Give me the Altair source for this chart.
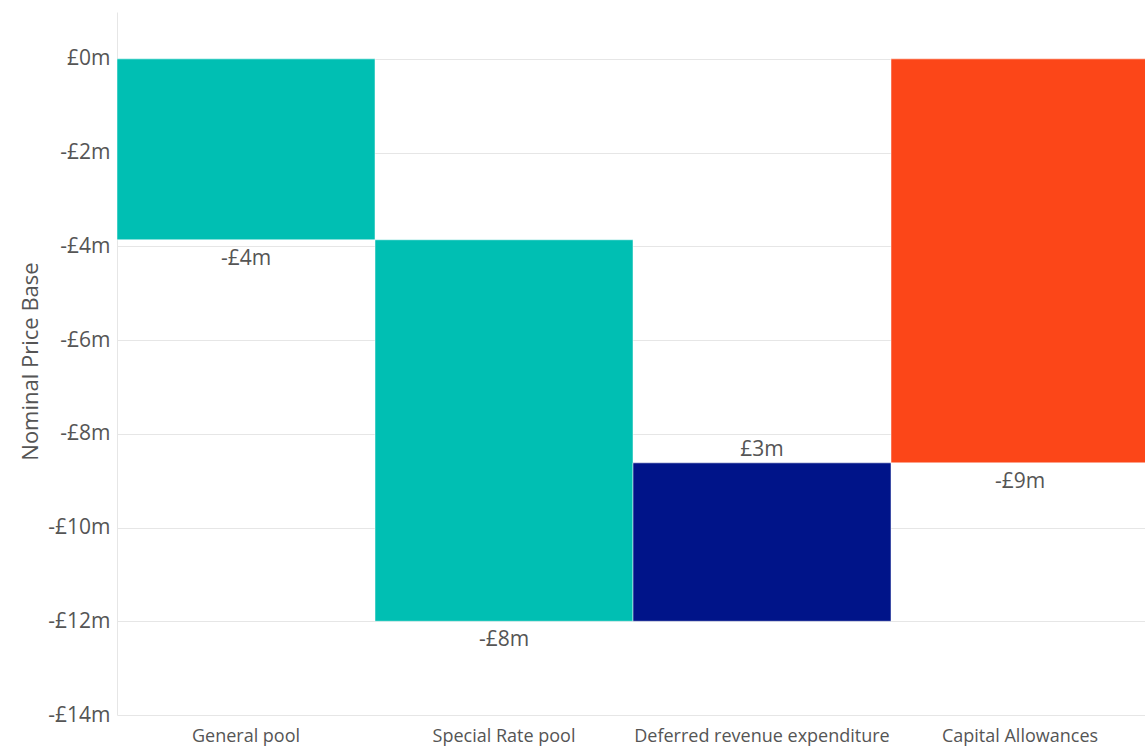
import altair as alt
import pandas as pd

categories = ["General pool", "Special Rate pool", "Deferred revenue expenditure", "Capital Allowances"]
changes = [-3.86, -8.14, 3.38, -8.62]
kinds = ["step", "step", "step", "total"]
labels = ["-£4m", "-£8m", "£3m", "-£9m"]
colors = ["#00BFB3", "#00BFB3", "#001489", "#FC4618"]

rows = []
running = 0.0
for cat, ch, kind, lab, col in zip(categories, changes, kinds, labels, colors):
    if kind == "total":
        start, end = 0.0, ch
    else:
        start, end = running, running + ch
        running = end
    rows.append({"cat": cat, "start": start, "end": end, "lo": min(start, end),
                 "hi": max(start, end), "label": lab, "color": col,
                 "sign": "neg" if ch < 0 else "pos"})
df = pd.DataFrame(rows)

font = "Open Sans"
xscale = alt.Scale(paddingInner=0, paddingOuter=0, range=[0, 1032])
x = alt.X("cat:N", sort=categories, title=None, scale=xscale,
          axis=alt.Axis(labelAngle=0, labelFontSize=18, labelColor="#555555",
                        labelFont=font, ticks=False, domain=False, labelPadding=12,
                        labelLimit=300))
yscale = alt.Scale(domain=[-14, 1], nice=False)

base = alt.Chart(df)

bars = base.mark_bar(stroke="white", strokeWidth=0.5).encode(
    x=x,
    y=alt.Y("start:Q", scale=yscale, title="Nominal Price Base",
            axis=alt.Axis(values=[0, -2, -4, -6, -8, -10, -12, -14],
                          labelExpr="datum.value < 0 ? '-£' + abs(datum.value) + 'm' : '£' + datum.value + 'm'",
                          labelFontSize=21, labelColor="#555555", labelFont=font,
                          ticks=False, domainColor="#e6e6e6", labelPadding=7,
                          gridColor="#e6e6e6", titleFontSize=22, titleFont=font,
                          titleColor="#555555", titleFontWeight="normal",
                          titleX=-87, titleY=349, titleAngle=270,
                          titleAlign="center", titleBaseline="middle")),
    y2="end:Q",
    color=alt.Color("color:N", scale=None),
)

neg_text = base.transform_filter("datum.sign == 'neg'").mark_text(
    baseline="top", dy=8, fontSize=21, font=font, color="#555555"
).encode(x=alt.X("cat:N", sort=categories, scale=xscale), y=alt.Y("lo:Q", scale=yscale), text="label:N")

pos_text = base.transform_filter("datum.sign == 'pos'").mark_text(
    baseline="bottom", dy=-3, fontSize=21, font=font, color="#555555"
).encode(x=alt.X("cat:N", sort=categories, scale=xscale), y=alt.Y("hi:Q", scale=yscale), text="label:N")

chart = alt.layer(bars, neg_text, pos_text).properties(
    width=1028, height=703,
    background="white",
    autosize=alt.AutoSizeParams(type="none"),
    padding={"left": 117, "top": 12, "right": 0, "bottom": 31},
).configure_view(strokeWidth=0, stroke="transparent")

chart.save("out.html", embed_options={"renderer": "svg", "actions": False})
